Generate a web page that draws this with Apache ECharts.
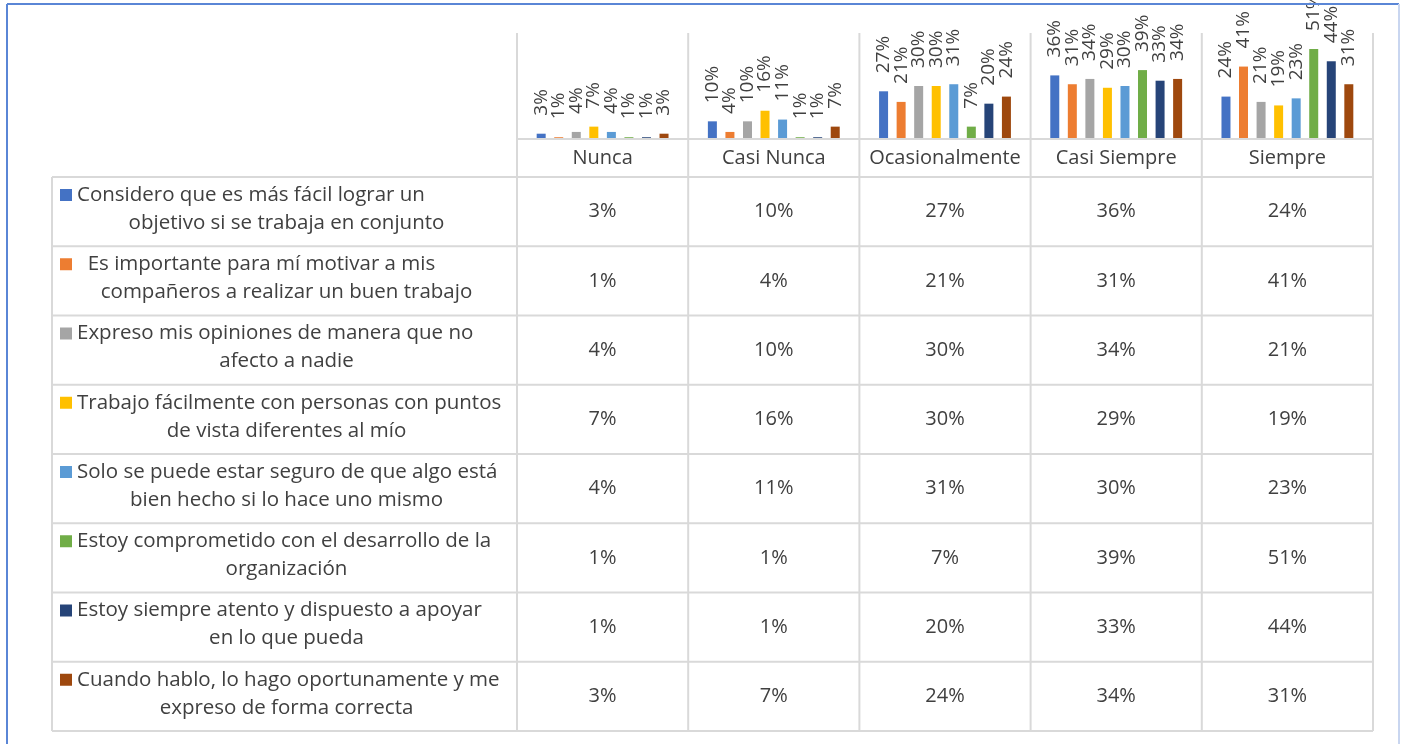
<!DOCTYPE html>
<html>
<head>
<meta charset="utf-8">
<script src="https://cdn.jsdelivr.net/npm/echarts@6/dist/echarts.min.js"></script>
<style>
  html, body { margin: 0; padding: 0; background: #fff; }
  #chart { width: 1403px; height: 744px; }
</style>
</head>
<body>
<div id="chart"></div>
<script>
// categorias (columnas de la tabla)
let categorias = ['Nunca', 'Casi Nunca', 'Ocasionalmente', 'Casi Siempre', 'Siempre'];

// nombre de cada serie, con el salto de linea que usa la tabla
let nombres = [
  'Considero que es más fácil lograr un\nobjetivo si se trabaja en conjunto',
  '  Es importante para mí motivar a mis\ncompañeros a realizar un buen trabajo',
  'Expreso mis opiniones de manera que no\nafecto a nadie',
  'Trabajo fácilmente con personas con puntos\nde vista diferentes al mío',
  'Solo se puede estar seguro de que algo está\nbien hecho si lo hace uno mismo',
  'Estoy comprometido con el desarrollo de la\norganización',
  'Estoy siempre atento y dispuesto a apoyar\nen lo que pueda',
  'Cuando hablo, lo hago oportunamente y me\nexpreso de forma correcta'
];

// valores (%) por serie: Nunca, Casi Nunca, Ocasionalmente, Casi Siempre, Siempre
let facil = [3, 10, 27, 36, 24];
let motivar = [1, 4, 21, 31, 41];
let opiniones = [4, 10, 30, 34, 21];
let puntosVista = [7, 16, 30, 29, 19];
let seguro = [4, 11, 31, 30, 23];
let comprometido = [1, 1, 7, 39, 51];
let atento = [1, 1, 20, 33, 44];
let hablo = [3, 7, 24, 34, 31];

let valores = [facil, motivar, opiniones, puntosVista, seguro, comprometido, atento, hablo];
let colores = ['#4472C4', '#ED7D31', '#A5A5A5', '#FFC000', '#5B9BD5', '#70AD47', '#264478', '#9E480E'];

// medidas de la tabla
let tablaIzq = 52, gridIzq = 517, gridDer = 1373;
let plotTop = 33, ejeY = 139, cabeceraFin = 177, filaAlto = 69.25;
let colAncho = (gridDer - gridIzq) / categorias.length;
let fuente = '"Open Sans", sans-serif';
let gris = '#d9d9d9', texto = '#404040';

function linea(x1, y1, x2, y2, color = gris) {
  return {
    type: 'line', silent: true, z: 10,
    shape: { x1: x1, y1: y1, x2: x2, y2: y2 },
    style: { stroke: color, lineWidth: 2 }
  };
}

let graficos = [];
// marco azul
graficos.push(linea(7, 4, 1399, 4, '#5a86d6'));
graficos.push(linea(7, 4, 7, 744, '#5a86d6'));
graficos.push(linea(1399, 4, 1399, 744, '#c9d6f0'));

let tablaFin = cabeceraFin + filaAlto * nombres.length;
// lineas verticales
graficos.push(linea(tablaIzq, cabeceraFin, tablaIzq, tablaFin));
for (let c = 0; c <= categorias.length; c++) {
  let x = gridIzq + colAncho * c;
  graficos.push(linea(x, plotTop, x, tablaFin));
}
// lineas horizontales
graficos.push(linea(gridIzq, ejeY, gridDer, ejeY));
for (let r = 0; r <= nombres.length; r++) {
  let y = cabeceraFin + filaAlto * r;
  graficos.push(linea(tablaIzq, y, gridDer, y));
}

// textos de la tabla
nombres.forEach((nombre, i) => {
  let top = cabeceraFin + filaAlto * i;
  let partes = nombre.split('\n');
  graficos.push({
    type: 'rect', silent: true,
    shape: { x: 60, y: top + 12, width: 12, height: 12 },
    style: { fill: colores[i] }
  });
  graficos.push({
    type: 'text', silent: true,
    style: {
      x: 77, y: top + 18, text: partes[0], fill: texto,
      font: '20.5px ' + fuente, textAlign: 'left', textVerticalAlign: 'middle'
    }
  });
  graficos.push({
    type: 'text', silent: true,
    style: {
      x: (tablaIzq + gridIzq) / 2 + 2, y: top + 46, text: partes[1], fill: texto,
      font: '20.5px ' + fuente, textAlign: 'center', textVerticalAlign: 'middle'
    }
  });
  valores[i].forEach((v, c) => {
    graficos.push({
      type: 'text', silent: true,
      style: {
        x: gridIzq + colAncho * (c + 0.5), y: top + filaAlto / 2, text: v + '%', fill: texto,
        font: '20px ' + fuente, textAlign: 'center', textVerticalAlign: 'middle'
      }
    });
  });
});

let series = valores.map((datos, i) => ({
  name: nombres[i].replace('\n', ' ').trim(),
  type: 'bar',
  data: datos,
  barWidth: 9,
  barGap: '95%',
  itemStyle: { color: colores[i] },
  label: {
    show: true,
    position: 'top',
    rotate: 90,
    align: 'left',
    verticalAlign: 'middle',
    distance: 18,
    formatter: '{c}%',
    fontSize: 19,
    fontFamily: fuente,
    color: texto
  }
}));

let option = {
  animation: false,
  backgroundColor: '#fff',
  grid: { left: gridIzq, right: 1403 - gridDer, top: plotTop, bottom: 744 - ejeY },
  xAxis: {
    type: 'category',
    data: categorias,
    axisLine: { show: false },
    axisTick: { show: false },
    axisLabel: { margin: 9, fontSize: 20, fontFamily: fuente, color: texto, interval: 0 }
  },
  yAxis: { type: 'value', min: 0, max: 60, show: false },
  series: series,
  graphic: graficos
};

let myChart = echarts.init(document.getElementById('chart'));
myChart.setOption(option);
</script>
</body>
</html>
